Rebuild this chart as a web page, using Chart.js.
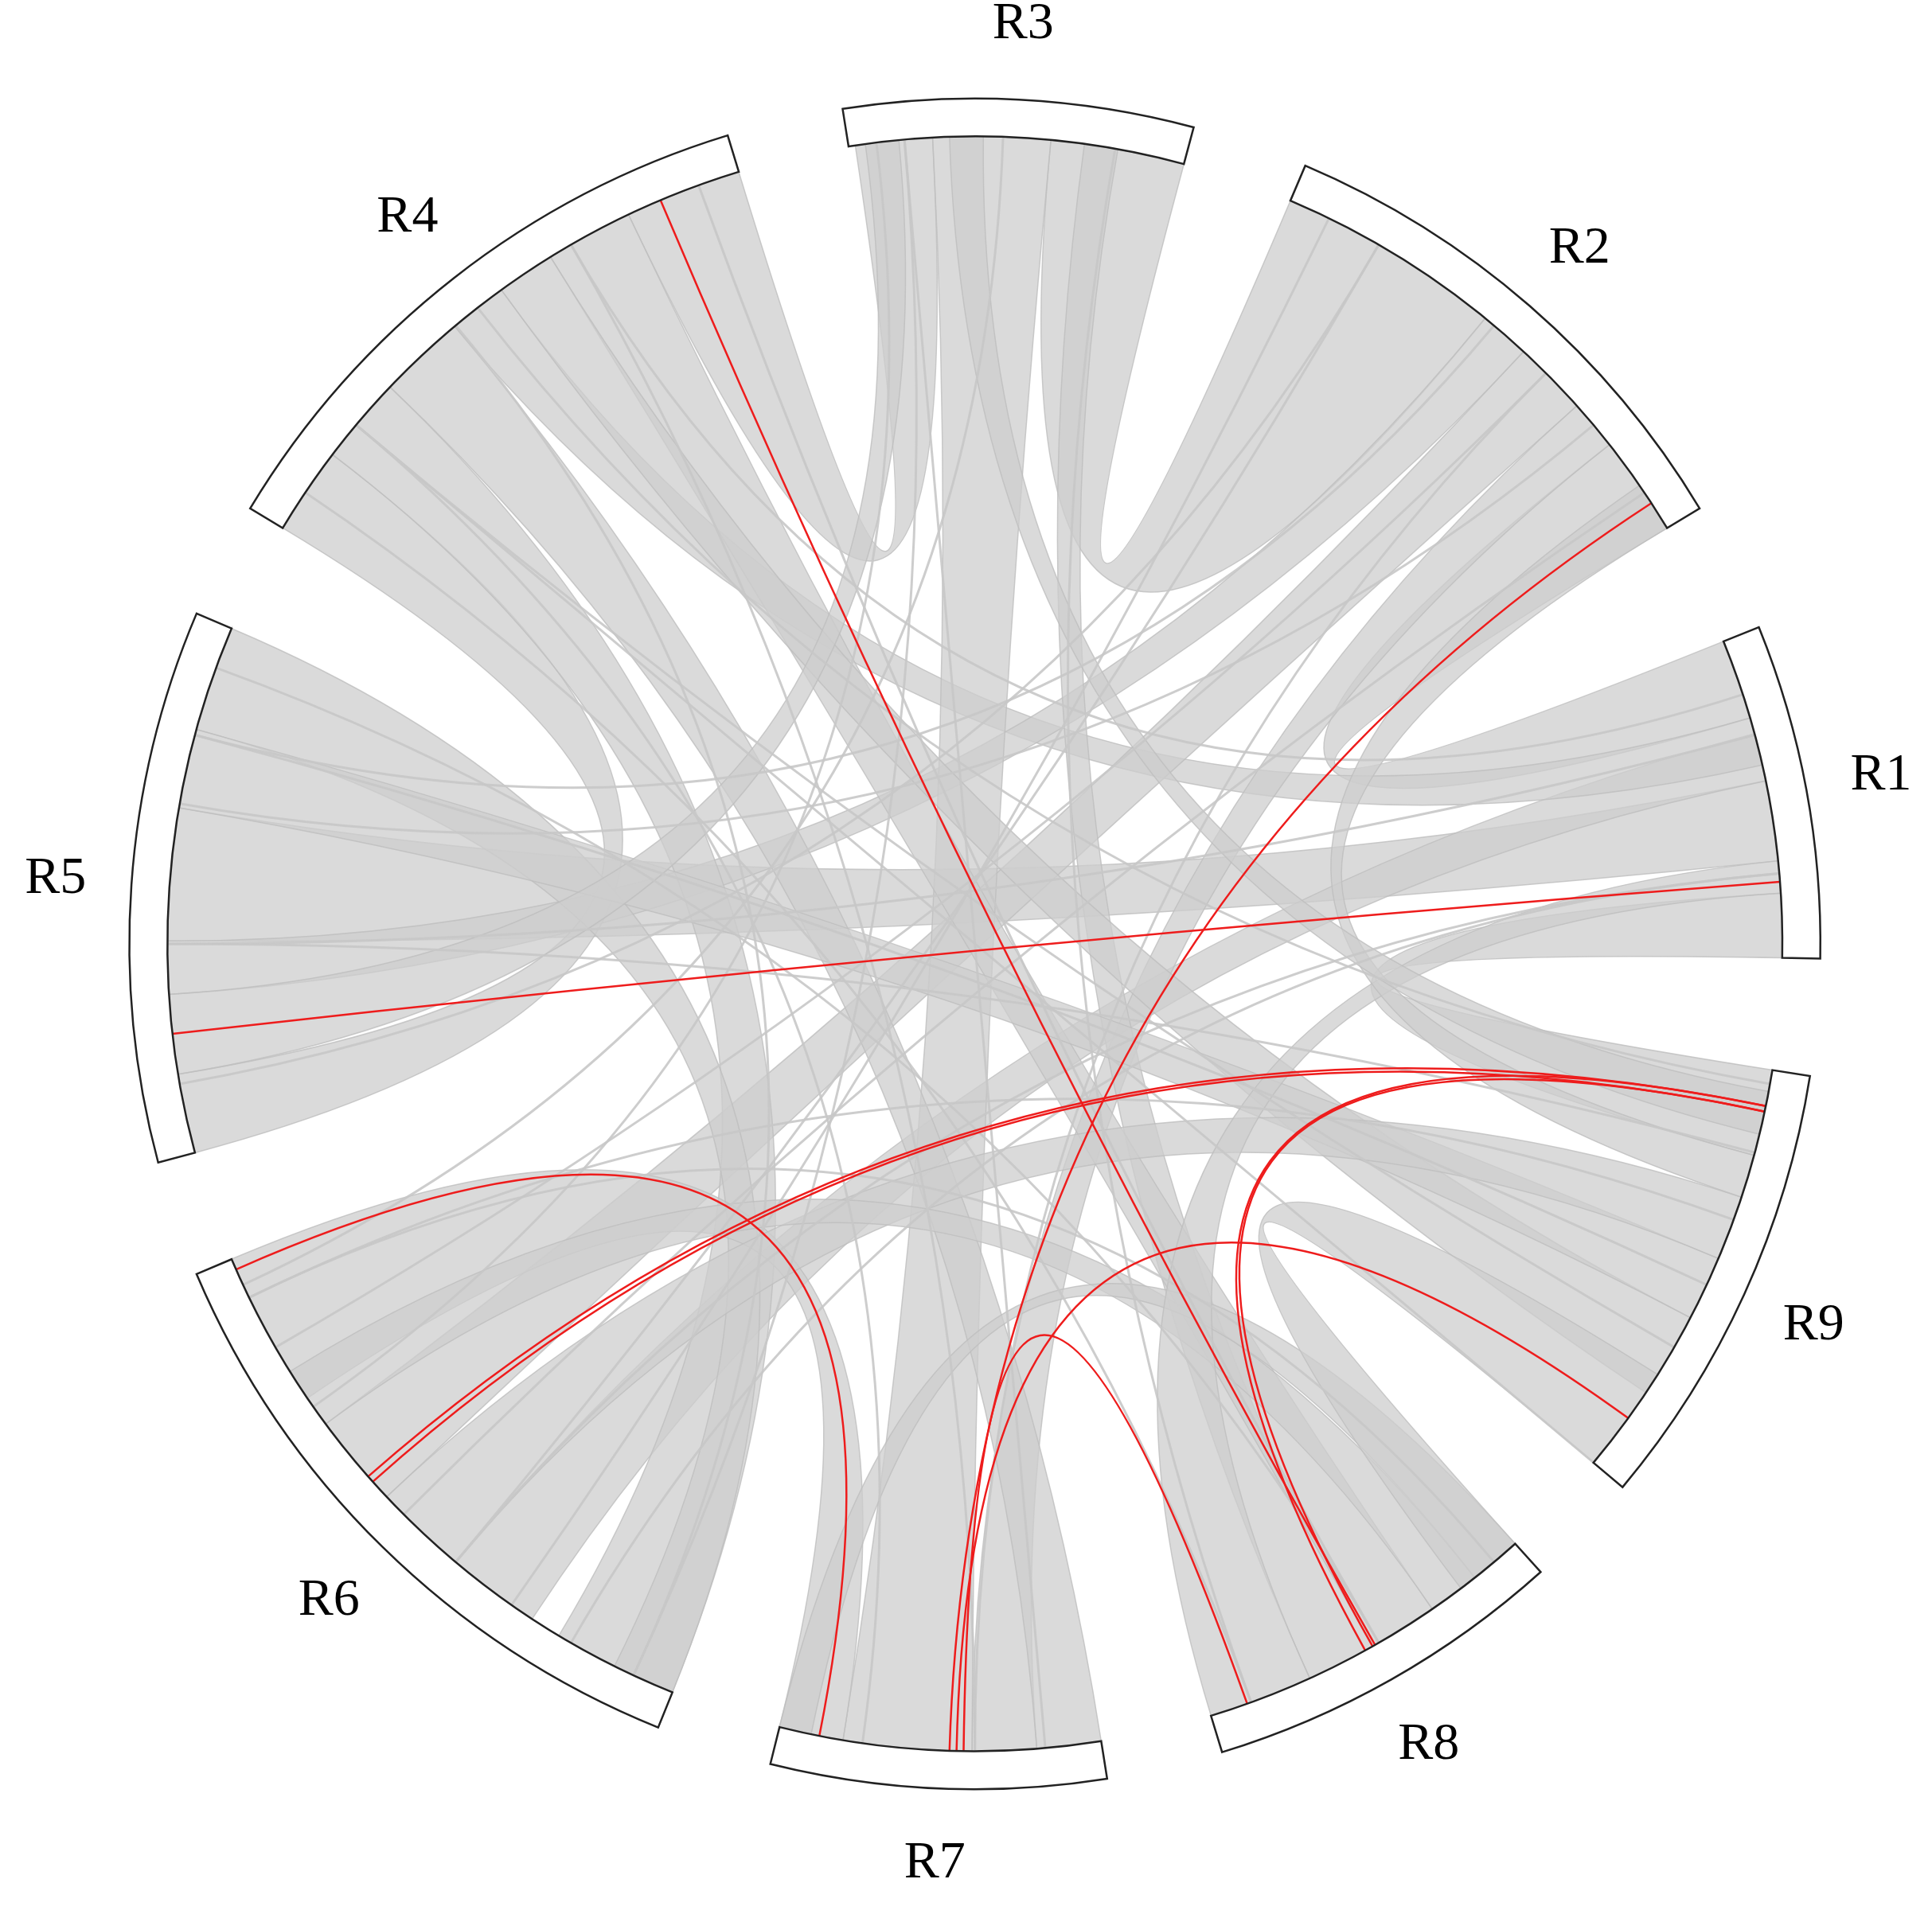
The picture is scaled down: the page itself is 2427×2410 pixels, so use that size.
<!DOCTYPE html>
<html><head><meta charset="utf-8">
<script src="https://cdn.jsdelivr.net/npm/chart.js@4/dist/chart.umd.min.js"></script>
<style>html,body{margin:0;padding:0;background:#fff}#wrap{width:2427px;height:2410px}</style>
</head><body><div id="wrap"><canvas id="c"></canvas></div>
<script>
const regions = ['R1','R2','R3','R4','R5','R6','R7','R8','R9'];
const segStart = [-1, 31, 75, 107, 157, 203, 256, 287, 320];
const segEnd   = [22, 67, 99, 149, 195, 248, 279, 312, 351];
// gray ribbons: [srcRegion, srcFrom, srcTo, dstRegion, dstFrom, dstTo] (fractions along region)
const grayRibbons = [
 [0,0.75,1.0,1,0.0,0.2],[0,0.0,0.2,8,0.8,1.0],[0,0.3,0.55,4,0.35,0.6],[0,0.55,0.7,5,0.6,0.75],
 [0,0.6,0.75,3,0.45,0.55],[1,0.55,1.0,2,0.0,0.4],[1,0.3,0.45,5,0.3,0.45],[1,0.2,0.3,6,0.6,0.8],
 [1,0.45,0.55,4,0.6,0.7],[2,0.75,0.98,3,0.0,0.2],[2,0.4,0.75,6,0.2,0.6],[2,0.2,0.3,7,0.3,0.5],
 [3,0.85,1.0,4,0.85,1.0],[3,0.2,0.35,7,0.5,0.7],[3,0.35,0.45,8,0.2,0.4],[3,0.55,0.7,6,0.8,1.0],
 [3,0.7,0.85,5,0.8,1.0],[4,0.0,0.2,5,0.9,1.0],[4,0.2,0.35,8,0.4,0.55],[4,0.7,0.85,2,0.85,0.95],
 [5,0.0,0.25,6,0.0,0.2],[5,0.45,0.6,8,0.55,0.7],[5,0.2,0.3,7,0.7,0.85],[6,0.0,0.1,7,0.85,1.0],
 [7,0.8,1.0,8,0.0,0.25],[7,0.0,0.3,0,0.2,0.3],[8,0.7,0.8,1,0.0,0.1],[8,0.85,0.95,2,0.6,0.7]
];
// individual gray chords: [angleA, angleB] in degrees
const grayLines = [[110,300],[120,270],[140,320],[95,245],[60,230],[45,210],[80,290],[170,40],[180,15],
 [165,335],[190,60],[215,97],[235,64],[245,130],[262,140],[275,95],[300,160],[310,206],[330,140],
 [345,180],[5,230],[18,120],[50,165],[88,205],[128,350],[146,290],[206,340],[225,34],[240,5],[270,45]];
// red chords: [angleA, angleB]
const redLines = [[112.9,299.7],[186.4,4.4],[33.1,268.2],[221.3,348.4],[221.8,348.0],[203.8,258.9],
 [324,268.7],[348.4,298.9],[348.0,299.5],[289.7,269.2]];

const R_OUT = 1.0, R_IN = 0.955, R_CH = 0.955, R_LBL = 1.09;
function ang(s,f){return segStart[s]+f*(segEnd[s]-segStart[s]);}

const chordPlugin = {
 id:'chord',
 afterDatasetsDraw(chart){
  const ctx = chart.ctx, xs = chart.scales.x, ys = chart.scales.y;
  const P = (r,deg)=>{const a=deg*Math.PI/180;return [xs.getPixelForValue(r*Math.cos(a)), ys.getPixelForValue(r*Math.sin(a))];};
  const cx = xs.getPixelForValue(0), cy = ys.getPixelForValue(0);
  const rpx = r => xs.getPixelForValue(r)-cx;
  ctx.save();
  grayRibbons.forEach(([s,f0,f1,t,g0,g1])=>{
   const a0=ang(s,f0),a1=ang(s,f1),b0=ang(t,g0),b1=ang(t,g1);
   ctx.beginPath();
   ctx.arc(cx,cy,rpx(R_CH),-a0*Math.PI/180,-a1*Math.PI/180,true);
   let p=P(R_CH,b0); ctx.quadraticCurveTo(cx,cy,p[0],p[1]);
   ctx.arc(cx,cy,rpx(R_CH),-b0*Math.PI/180,-b1*Math.PI/180,true);
   p=P(R_CH,a0); ctx.quadraticCurveTo(cx,cy,p[0],p[1]);
   ctx.closePath();
   ctx.fillStyle='rgba(205,205,205,0.75)'; ctx.fill();
   ctx.strokeStyle='rgba(190,190,190,0.8)'; ctx.lineWidth=1.5; ctx.stroke();
  });
  const drawLine=(a,b,col,w)=>{const p=P(R_CH,a),q=P(R_CH,b);ctx.beginPath();ctx.moveTo(p[0],p[1]);ctx.quadraticCurveTo(cx,cy,q[0],q[1]);ctx.strokeStyle=col;ctx.lineWidth=w;ctx.stroke();};
  grayLines.forEach(([a,b])=>drawLine(a,b,'rgba(200,200,200,0.9)',3));
  redLines.forEach(([a,b])=>drawLine(a,b,'#ee1c1c',2.5));
  segStart.forEach((s,i)=>{
   const e=segEnd[i];
   ctx.beginPath();
   ctx.arc(cx,cy,rpx(R_OUT),-s*Math.PI/180,-e*Math.PI/180,true);
   ctx.arc(cx,cy,rpx(R_IN),-e*Math.PI/180,-s*Math.PI/180,false);
   ctx.closePath(); ctx.fillStyle='#fff'; ctx.fill();
   ctx.strokeStyle='#222'; ctx.lineWidth=2.5; ctx.stroke();
   const m=(s+e)/2, p=P(R_LBL,m);
   ctx.fillStyle='#000'; ctx.font='66px "Liberation Serif", "DejaVu Serif", serif';
   ctx.textAlign='center'; ctx.textBaseline='middle';
   ctx.fillText(regions[i],p[0],p[1]);
  });
  ctx.restore();
 }
};

new Chart(document.getElementById('c'),{
 type:'scatter',
 data:{datasets:[{data:[],pointRadius:0}]},
 options:{responsive:true,maintainAspectRatio:false,animation:false,
  layout:{padding:0},
  plugins:{legend:{display:false},tooltip:{enabled:false}},
  scales:{x:{display:false,min:-1.153,max:1.132},y:{display:false,min:-1.153,max:1.117}}},
 plugins:[chordPlugin]
});
</script></body></html>
